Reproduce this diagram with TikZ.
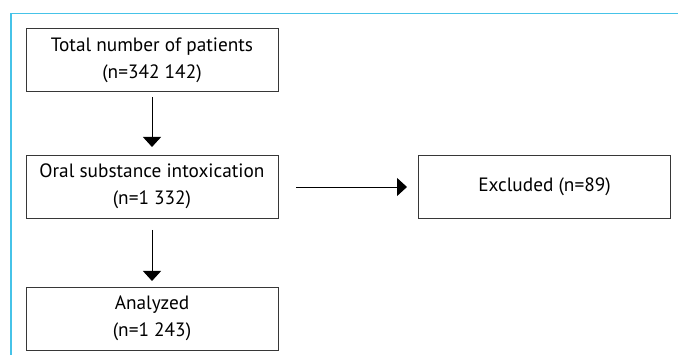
\documentclass[tikz,border=0pt]{standalone}
\usepackage{fontspec}
\setmainfont{PT Sans}
\usepackage{tikz}
\usetikzlibrary{arrows.meta,positioning}
\definecolor{framecyan}{RGB}{70,195,232}
\definecolor{boxgray}{RGB}{55,55,55}

\begin{document}
\begin{tikzpicture}[x=1pt,y=-1pt]
\tikzset{box/.style={draw=boxgray,line width=0.9pt,minimum width=252pt,minimum height=63pt,
  align=center,inner sep=0pt,font=\fontsize{19.3}{27}\selectfont},
  flow/.style={draw=black,line width=0.9pt,-{Triangle[length=10pt,width=18pt]}}}
\useasboundingbox (0,0) rectangle (678,355);
\draw [framecyan,line width=1.1pt] (678,13.5) -- (11,13.5) -- (11,355);
\node [box] (total) at (152,60) {Total number of patients\\(n=342 142)};
\node [box] (oral) at (152,186.5) {Oral substance intoxication\\(n=1 332)};
\node [box] (analyzed) at (152,318.5) {Analyzed\\(n=1 243)};
\node [box] (excluded) at (544.5,187) {Excluded (n=89)};
\coordinate (t0) at (152,97);
\coordinate (t1) at (152,147);
\coordinate (o0) at (152,230);
\coordinate (o1) at (152,281);
\coordinate (e0) at (296,187);
\coordinate (e1) at (407,187);
\draw [flow] (t0) -- (t1);
\draw [flow] (o0) -- (o1);
\draw [flow] (e0) -- (e1);
\end{tikzpicture}
\end{document}
